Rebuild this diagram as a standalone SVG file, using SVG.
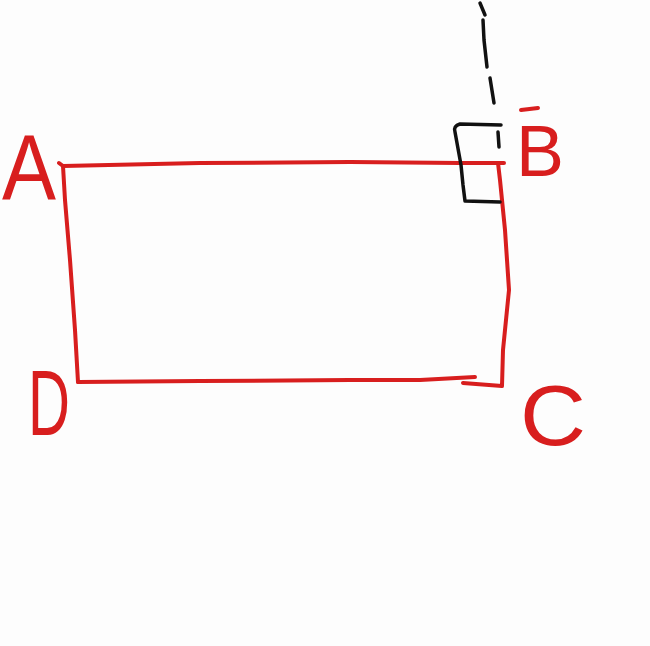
<svg xmlns="http://www.w3.org/2000/svg" width="650" height="646" viewBox="0 0 650 646">
<style>
.red{fill:none;stroke:#d81e1e;stroke-width:4;stroke-linecap:round;stroke-linejoin:round}
.blk{fill:none;stroke:#111;stroke-width:3.5;stroke-linecap:round;stroke-linejoin:round}
.lbl{fill:#d81e1e;font-family:"Liberation Sans",Arial,sans-serif;font-weight:300}
</style>
<rect width="650" height="646" fill="#fdfdfd"/>
<g id="connectors">
<path class="red" d="M59 163 L63 166 L65 200 L70 260 L75 330 L78 382"/>
<path class="red" d="M63 166 L200 163 L350 162 L460 163 L504 163"/>
<path class="red" d="M78 382 L200 381 L350 380 L420 380 L475 377"/>
<path class="red" d="M463 383 L502 386 L503 350 L509 290 L505 230 L500 180 L498 163"/>
<path class="blk" d="M480 3 L485 15"/>
<path class="blk" d="M483 20 L484 40 L487 67"/>
<path class="blk" d="M490 78 L494 103"/>
<path class="blk" d="M498 132 L499 147"/>
</g>
<g id="right-angle">
<path class="blk" d="M501 125 L460 124 Q453 126 455 132 L461 165 L463 185 L465 201 L500 202"/>
</g>
<g id="label-A"><text class="lbl" x="2" y="200" font-size="92" textLength="54" lengthAdjust="spacingAndGlyphs">A</text></g>
<g id="label-B"><path class="red" d="M521 110 L538 108"/><text class="lbl" x="516" y="176" font-size="72" textLength="48" lengthAdjust="spacingAndGlyphs">B</text></g>
<g id="label-C"><text class="lbl" x="520" y="445" font-size="86" textLength="66" lengthAdjust="spacingAndGlyphs">C</text></g>
<g id="label-D"><text class="lbl" x="28" y="435" font-size="92" textLength="42" lengthAdjust="spacingAndGlyphs">D</text></g>
</svg>
